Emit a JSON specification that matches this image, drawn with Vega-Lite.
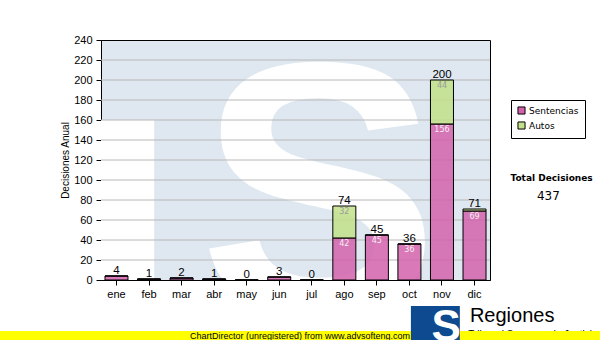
{
  "$schema": "https://vega.github.io/schema/vega-lite/v6.json",
  "width": 389,
  "height": 240,
  "autosize": "none",
  "padding": {"left": 101, "top": 40, "right": 110, "bottom": 60},
  "background": "#ffffff",
  "config": {
    "view": {"fill": "#dfe8f1", "stroke": "#000000", "strokeWidth": 1},
    "axis": {
      "zindex": 1, "grid": false, "domainColor": "#000000", "tickColor": "#000000",
      "labelColor": "#000000", "labelFont": "Liberation Sans", "labelFontSize": 11,
      "titleFont": "Liberation Sans", "titleFontSize": 10, "titleFontWeight": "normal", "titleColor": "#000000"
    }
  },
  "data": {"values": [{}]},
  "datasets": {
    "d": [
      {"mes": "ene", "tipo": "Sentencias", "value": 4}, {"mes": "ene", "tipo": "Autos", "value": 0},
      {"mes": "feb", "tipo": "Sentencias", "value": 1}, {"mes": "feb", "tipo": "Autos", "value": 0},
      {"mes": "mar", "tipo": "Sentencias", "value": 2}, {"mes": "mar", "tipo": "Autos", "value": 0},
      {"mes": "abr", "tipo": "Sentencias", "value": 1}, {"mes": "abr", "tipo": "Autos", "value": 0},
      {"mes": "may", "tipo": "Sentencias", "value": 0}, {"mes": "may", "tipo": "Autos", "value": 0},
      {"mes": "jun", "tipo": "Sentencias", "value": 3}, {"mes": "jun", "tipo": "Autos", "value": 0},
      {"mes": "jul", "tipo": "Sentencias", "value": 0}, {"mes": "jul", "tipo": "Autos", "value": 0},
      {"mes": "ago", "tipo": "Sentencias", "value": 42}, {"mes": "ago", "tipo": "Autos", "value": 32},
      {"mes": "sep", "tipo": "Sentencias", "value": 45}, {"mes": "sep", "tipo": "Autos", "value": 0},
      {"mes": "oct", "tipo": "Sentencias", "value": 36}, {"mes": "oct", "tipo": "Autos", "value": 0},
      {"mes": "nov", "tipo": "Sentencias", "value": 156}, {"mes": "nov", "tipo": "Autos", "value": 44},
      {"mes": "dic", "tipo": "Sentencias", "value": 69}, {"mes": "dic", "tipo": "Autos", "value": 2}
    ],
    "grid": [{"g": 20}, {"g": 40}, {"g": 60}, {"g": 80}, {"g": 100}, {"g": 120}, {"g": 140}, {"g": 160}, {"g": 180}, {"g": 200}, {"g": 220}]
  },
  "resolve": {"scale": {"x": "independent", "y": "independent"}},
  "layer": [
    {
      "layer": [
        {
          "mark": {"type": "rect", "fill": "#ffffff"},
          "encoding": {
            "x": {"datum": 0, "type": "quantitative", "scale": {"domain": [0, 12], "nice": false}, "axis": null},
            "x2": {"datum": 1.64},
            "y": {"datum": 0, "type": "quantitative", "scale": {"domain": [0, 240], "nice": false}, "axis": null},
            "y2": {"datum": 160}
          }
        },
        {
          "mark": {"type": "text", "text": "S", "font": "Liberation Sans", "fontWeight": "bold", "fontSize": 360, "fill": "#ffffff", "align": "center", "baseline": "alphabetic", "clip": true},
          "encoding": {
            "x": {"datum": 6.72, "type": "quantitative", "scale": {"domain": [0, 12], "nice": false}, "axis": null},
            "y": {"datum": -33, "type": "quantitative", "scale": {"domain": [0, 240], "nice": false}, "axis": null}
          }
        },
        {
          "data": {"name": "grid"},
          "mark": {"type": "rule", "stroke": "#b8b8b8", "strokeWidth": 1},
          "encoding": {
            "y": {"field": "g", "type": "quantitative", "scale": {"domain": [0, 240], "nice": false}, "axis": null}
          }
        }
      ]
    },
    {
      "data": {"name": "d"},
      "encoding": {
        "x": {
          "field": "mes", "type": "nominal", "sort": null,
          "scale": {"domain": ["ene", "feb", "mar", "abr", "may", "jun", "jul", "ago", "sep", "oct", "nov", "dic"], "paddingInner": 0.293, "paddingOuter": 0.122},
          "axis": {"title": null, "labelAngle": 0, "tickSize": 5, "labelPadding": 3}
        }
      },
      "layer": [
        {
          "mark": {"type": "bar", "stroke": "#000000", "strokeWidth": 1, "fillOpacity": 0.85},
          "encoding": {
            "y": {
              "field": "value", "type": "quantitative", "stack": "zero",
              "scale": {"domain": [0, 240], "nice": false},
              "axis": {"values": [0, 20, 40, 60, 80, 100, 120, 140, 160, 180, 200, 220, 240], "labelOverlap": false, "tickSize": 5, "labelPadding": 4, "titlePadding": 3},
              "title": "Decisiones Anual"
            },
            "color": {
              "field": "tipo", "type": "nominal",
              "scale": {"domain": ["Sentencias", "Autos"], "range": ["#d462ab", "#c2e088"]},
              "legend": {
                "orient": "none", "legendX": 410, "legendY": 60, "title": null,
                "strokeColor": "#000000", "fillColor": "#ffffff", "padding": 6,
                "symbolType": "square", "symbolSize": 50, "symbolStrokeColor": "#000000", "symbolStrokeWidth": 1,
                "labelFont": "DejaVu Sans", "labelFontSize": 9, "labelColor": "#000000", "rowPadding": 2, "labelOffset": 3
              }
            },
            "order": {"field": "tipo", "sort": "descending"}
          }
        },
        {
          "transform": [
            {"stack": "value", "groupby": ["mes"], "sort": [{"field": "tipo", "order": "descending"}], "as": ["v0", "v1"]},
            {"filter": "datum.value >= 10 && datum.tipo == 'Sentencias'"}
          ],
          "mark": {"type": "text", "font": "DejaVu Sans", "fontSize": 8, "fill": "#f6eef4", "baseline": "top", "dy": 2},
          "encoding": {
            "y": {"field": "v1", "type": "quantitative", "scale": {"domain": [0, 240], "nice": false}, "title": "Decisiones Anual",
              "axis": {"values": [0, 20, 40, 60, 80, 100, 120, 140, 160, 180, 200, 220, 240], "labelOverlap": false, "tickSize": 5, "labelPadding": 4, "titlePadding": 3}},
            "text": {"field": "value", "type": "quantitative"}
          }
        },
        {
          "transform": [
            {"stack": "value", "groupby": ["mes"], "sort": [{"field": "tipo", "order": "descending"}], "as": ["v0", "v1"]},
            {"filter": "datum.value >= 10 && datum.tipo == 'Autos'"}
          ],
          "mark": {"type": "text", "font": "DejaVu Sans", "fontSize": 8, "fill": "#9a9a9a", "baseline": "top", "dy": 2},
          "encoding": {
            "y": {"field": "v1", "type": "quantitative", "scale": {"domain": [0, 240], "nice": false}, "title": "Decisiones Anual",
              "axis": {"values": [0, 20, 40, 60, 80, 100, 120, 140, 160, 180, 200, 220, 240], "labelOverlap": false, "tickSize": 5, "labelPadding": 4, "titlePadding": 3}},
            "text": {"field": "value", "type": "quantitative"}
          }
        },
        {
          "transform": [{"aggregate": [{"op": "sum", "field": "value", "as": "total"}], "groupby": ["mes"]}],
          "mark": {"type": "text", "font": "Liberation Sans", "fontSize": 11.5, "fill": "#000000", "baseline": "bottom", "dy": 0},
          "encoding": {
            "y": {"field": "total", "type": "quantitative", "scale": {"domain": [0, 240], "nice": false}, "title": "Decisiones Anual",
              "axis": {"values": [0, 20, 40, 60, 80, 100, 120, 140, 160, 180, 200, 220, 240], "labelOverlap": false, "tickSize": 5, "labelPadding": 4, "titlePadding": 3}},
            "text": {"field": "total", "type": "quantitative"}
          }
        }
      ]
    },
    {
      "layer": [
        {
          "mark": {"type": "text", "text": "Tribunal Supremo de Justicia", "font": "Liberation Sans", "fontSize": 10, "fill": "#000000", "align": "left", "baseline": "alphabetic"},
          "encoding": {
            "x": {"datum": 11.33, "type": "quantitative", "scale": {"domain": [0, 12], "nice": false}, "axis": null},
            "y": {"datum": -57.5, "type": "quantitative", "scale": {"domain": [0, 240], "nice": false}, "axis": null}
          }
        },
        {
          "mark": {"type": "rect", "fill": "#ffff00"},
          "encoding": {
            "x": {"datum": -3.2, "type": "quantitative", "scale": {"domain": [0, 12], "nice": false}, "axis": null},
            "x2": {"datum": 15.5},
            "y": {"datum": -51, "type": "quantitative", "scale": {"domain": [0, 240], "nice": false}, "axis": null},
            "y2": {"datum": -61}
          }
        },
        {
          "mark": {"type": "text", "text": "ChartDirector (unregistered) from www.advsofteng.com", "font": "Liberation Sans", "fontSize": 9, "fill": "#000000", "align": "center", "baseline": "alphabetic"},
          "encoding": {
            "x": {"datum": 6.14, "type": "quantitative", "scale": {"domain": [0, 12], "nice": false}, "axis": null},
            "y": {"datum": -58.5, "type": "quantitative", "scale": {"domain": [0, 240], "nice": false}, "axis": null}
          }
        },
        {
          "mark": {"type": "rect", "fill": "#0d4a8f"},
          "encoding": {
            "x": {"datum": 9.56, "type": "quantitative", "scale": {"domain": [0, 12], "nice": false}, "axis": null},
            "x2": {"datum": 11.07},
            "y": {"datum": -26, "type": "quantitative", "scale": {"domain": [0, 240], "nice": false}, "axis": null},
            "y2": {"datum": -60}
          }
        },
        {
          "mark": {"type": "text", "text": "S", "font": "Liberation Sans", "fontWeight": "bold", "fontSize": 44, "fill": "#ffffff", "align": "center", "baseline": "alphabetic"},
          "encoding": {
            "x": {"datum": 10.65, "type": "quantitative", "scale": {"domain": [0, 12], "nice": false}, "axis": null},
            "y": {"datum": -61, "type": "quantitative", "scale": {"domain": [0, 240], "nice": false}, "axis": null}
          }
        },
        {
          "mark": {"type": "text", "text": "Regiones", "font": "Liberation Sans", "fontSize": 20, "fill": "#000000", "align": "left", "baseline": "alphabetic"},
          "encoding": {
            "x": {"datum": 11.38, "type": "quantitative", "scale": {"domain": [0, 12], "nice": false}, "axis": null},
            "y": {"datum": -42, "type": "quantitative", "scale": {"domain": [0, 240], "nice": false}, "axis": null}
          }
        },
        {
          "mark": {"type": "text", "text": "Total Decisiones", "font": "DejaVu Sans", "fontWeight": "bold", "fontSize": 9, "fill": "#000000", "align": "center", "baseline": "alphabetic"},
          "encoding": {
            "x": {"datum": 13.9, "type": "quantitative", "scale": {"domain": [0, 12], "nice": false}, "axis": null},
            "y": {"datum": 99, "type": "quantitative", "scale": {"domain": [0, 240], "nice": false}, "axis": null}
          }
        },
        {
          "data": {"name": "d"},
          "transform": [{"aggregate": [{"op": "sum", "field": "value", "as": "total"}]}],
          "mark": {"type": "text", "font": "DejaVu Sans", "fontSize": 12, "fill": "#000000", "align": "center", "baseline": "alphabetic"},
          "encoding": {
            "x": {"datum": 13.8, "type": "quantitative", "scale": {"domain": [0, 12], "nice": false}, "axis": null},
            "y": {"datum": 80, "type": "quantitative", "scale": {"domain": [0, 240], "nice": false}, "axis": null},
            "text": {"field": "total", "type": "quantitative"}
          }
        }
      ]
    }
  ]
}
